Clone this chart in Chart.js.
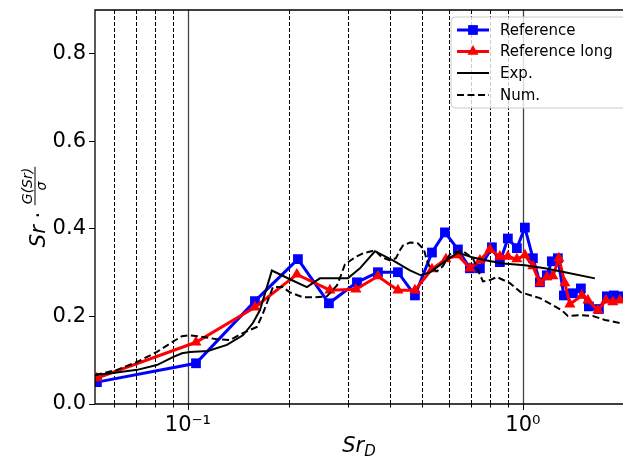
<!DOCTYPE html>
<html>
<head>
<meta charset="utf-8">
<script src="https://cdn.jsdelivr.net/npm/chart.js@4.4.0/dist/chart.umd.min.js"></script>
<style>
  html, body { margin: 0; padding: 0; background: #fff; }
  #wrap { width: 623px; height: 467px; }
</style>
</head>
<body>
<div id="wrap"><canvas id="myChart" width="623" height="467"></canvas></div>
<script>
// values
const refX = [0.0535, 0.1057, 0.1585, 0.213, 0.2636, 0.3196, 0.3692, 0.4236, 0.4761, 0.5352, 0.5852, 0.6397, 0.6948, 0.7441, 0.8083, 0.8537, 0.9019, 0.9596, 1.0139, 1.0712, 1.124, 1.179, 1.2204, 1.2718, 1.3253, 1.4101, 1.4896, 1.574, 1.6866, 1.7815, 1.8685, 1.9607];
const refY = [0.050, 0.093, 0.235, 0.331, 0.230, 0.278, 0.301, 0.301, 0.248, 0.346, 0.392, 0.353, 0.310, 0.310, 0.358, 0.324, 0.378, 0.356, 0.403, 0.333, 0.278, 0.294, 0.326, 0.333, 0.248, 0.253, 0.264, 0.223, 0.217, 0.246, 0.248, 0.246];

const longX = [0.0535, 0.1057, 0.1585, 0.2115, 0.2654, 0.3174, 0.3692, 0.4236, 0.4761, 0.5352, 0.5891, 0.6397, 0.6948, 0.7441, 0.797, 0.8537, 0.9019, 0.9596, 1.0139, 1.0712, 1.124, 1.179, 1.229, 1.2806, 1.3346, 1.3812, 1.5, 1.5631, 1.6749, 1.7697, 1.8561, 1.9481];
const longY = [0.059, 0.141, 0.221, 0.296, 0.260, 0.262, 0.292, 0.260, 0.260, 0.308, 0.331, 0.340, 0.310, 0.328, 0.353, 0.337, 0.337, 0.331, 0.340, 0.315, 0.276, 0.290, 0.292, 0.333, 0.276, 0.228, 0.248, 0.237, 0.214, 0.237, 0.233, 0.237];

const expX = [0.0528, 0.0597, 0.0705, 0.0808, 0.0902, 0.096, 0.1014, 0.1147, 0.1307, 0.1459, 0.1563, 0.164, 0.1721, 0.1781, 0.2016, 0.2266, 0.2477, 0.3003, 0.3262, 0.3616, 0.4091, 0.46, 0.496, 0.5279, 0.5691, 0.6397, 0.7045, 0.7808, 0.8716, 1.0139, 1.1634, 1.3346, 1.6401];
const expY = [0.066, 0.071, 0.078, 0.089, 0.107, 0.116, 0.119, 0.121, 0.135, 0.157, 0.185, 0.214, 0.267, 0.305, 0.285, 0.267, 0.287, 0.287, 0.310, 0.349, 0.328, 0.305, 0.294, 0.301, 0.319, 0.346, 0.335, 0.328, 0.321, 0.317, 0.310, 0.301, 0.287];

const numX = [0.0528, 0.0614, 0.0705, 0.0808, 0.0896, 0.096, 0.1014, 0.1109, 0.1221, 0.1335, 0.1459, 0.1607, 0.1675, 0.1794, 0.1921, 0.2016, 0.2204, 0.2393, 0.26, 0.2786, 0.2863, 0.2943, 0.3151, 0.3331, 0.3616, 0.3794, 0.4009, 0.4178, 0.4294, 0.4384, 0.46, 0.4861, 0.5064, 0.5169, 0.5279, 0.5537, 0.577, 0.6055, 0.6574, 0.709, 0.7597, 0.797, 0.8364, 0.9146, 0.9863, 1.124, 1.3072, 1.3623, 1.4794, 1.6181, 1.7571, 1.9481];
const numY = [0.066, 0.078, 0.096, 0.119, 0.141, 0.155, 0.157, 0.153, 0.148, 0.146, 0.162, 0.176, 0.207, 0.267, 0.267, 0.255, 0.244, 0.244, 0.246, 0.271, 0.294, 0.319, 0.335, 0.344, 0.351, 0.335, 0.328, 0.333, 0.351, 0.362, 0.369, 0.367, 0.353, 0.328, 0.312, 0.303, 0.315, 0.342, 0.351, 0.333, 0.280, 0.283, 0.290, 0.276, 0.255, 0.242, 0.214, 0.201, 0.203, 0.201, 0.192, 0.185];

const xMajor = [0.1, 1];
const xMinor = [0.06, 0.07, 0.08, 0.09, 0.2, 0.3, 0.4, 0.5, 0.6, 0.7, 0.8, 0.9];
const xLabels = ["10\u207B\u00B9", "10\u2070"];
const yTicks = [0, 0.2, 0.4, 0.6, 0.8];

const toPoints = (xs, ys) => xs.map((x, i) => ({ x: x, y: ys[i] }));

Chart.defaults.font.family = "DejaVu Sans";
Chart.defaults.color = "#000";

const decor = {
  id: "decor",
  beforeDatasetsDraw(chart) {
    const { ctx, chartArea: a, scales: { x } } = chart;
    ctx.save();
    xMinor.forEach((v) => {
      const px = Math.round(x.getPixelForValue(v)) + 0.5;
      ctx.beginPath();
      ctx.setLineDash([4, 2]);
      ctx.lineWidth = 1;
      ctx.strokeStyle = "#000";
      ctx.moveTo(px, a.top);
      ctx.lineTo(px, a.bottom);
      ctx.stroke();
    });
    xMajor.forEach((v) => {
      const px = Math.round(x.getPixelForValue(v)) + 0.5;
      ctx.beginPath();
      ctx.setLineDash([]);
      ctx.lineWidth = 1.3;
      ctx.strokeStyle = "#444";
      ctx.moveTo(px, a.top);
      ctx.lineTo(px, a.bottom);
      ctx.stroke();
    });
    ctx.restore();
  },
  afterDraw(chart) {
    const { ctx, chartArea: a, scales: { x } } = chart;
    ctx.save();
    // spines
    ctx.strokeStyle = "#000";
    ctx.lineWidth = 1.3;
    ctx.setLineDash([]);
    ctx.beginPath();
    ctx.moveTo(a.right + 2, a.top);
    ctx.lineTo(a.left, a.top);
    ctx.lineTo(a.left, a.bottom);
    ctx.lineTo(a.right + 2, a.bottom);
    ctx.stroke();
    // x tick marks
    xMajor.concat(xMinor).forEach((v) => {
      const px = Math.round(x.getPixelForValue(v)) + 0.5;
      const len = xMajor.includes(v) ? 6 : 3.5;
      ctx.beginPath();
      ctx.lineWidth = 1;
      ctx.moveTo(px, a.bottom);
      ctx.lineTo(px, a.bottom + len);
      ctx.stroke();
    });

    // x title: Sr_D
    ctx.fillStyle = "#000";
    ctx.textBaseline = "alphabetic";
    ctx.font = "italic 21px 'DejaVu Sans'";
    const wSr = ctx.measureText("Sr").width;
    ctx.font = "italic 15px 'DejaVu Sans'";
    const wD = ctx.measureText("D").width;
    let sx = (a.left + a.right) / 2 - (wSr + wD) / 2;
    ctx.font = "italic 21px 'DejaVu Sans'";
    ctx.textAlign = "left";
    ctx.fillText("Sr", sx, 452);
    ctx.font = "italic 15px 'DejaVu Sans'";
    ctx.fillText("D", sx + wSr, 456);

    // y title: Sr · G(Sr)/σ
    ctx.save();
    ctx.translate(45, (a.top + a.bottom) / 2);
    ctx.rotate(-Math.PI / 2);
    ctx.font = "italic 21px 'DejaVu Sans'";
    const w1 = ctx.measureText("Sr").width;
    ctx.font = "21px 'DejaVu Sans'";
    const w2 = ctx.measureText(" \u00B7 ").width;
    ctx.font = "italic 14px 'DejaVu Sans'";
    const wNum = ctx.measureText("G(Sr)").width;
    const wDen = ctx.measureText("\u03C3").width;
    const wFrac = Math.max(wNum, wDen) + 2;
    let tx = -(w1 + w2 + wFrac) / 2;
    ctx.font = "italic 21px 'DejaVu Sans'";
    ctx.fillText("Sr", tx, 0);
    tx += w1;
    ctx.font = "21px 'DejaVu Sans'";
    ctx.fillText(" \u00B7 ", tx, 0);
    tx += w2;
    ctx.font = "italic 14px 'DejaVu Sans'";
    ctx.fillText("G(Sr)", tx + (wFrac - wNum) / 2, -13);
    ctx.fillText("\u03C3", tx + (wFrac - wDen) / 2, 1);
    ctx.fillRect(tx, -10.5, wFrac, 1);
    ctx.restore();

    // legend
    const lx = 451, ly = 17, lw = 200, lh = 91, r = 4;
    ctx.beginPath();
    ctx.moveTo(lx + r, ly);
    ctx.lineTo(lx + lw, ly);
    ctx.lineTo(lx + lw, ly + lh);
    ctx.lineTo(lx + r, ly + lh);
    ctx.arcTo(lx, ly + lh, lx, ly + lh - r, r);
    ctx.lineTo(lx, ly + r);
    ctx.arcTo(lx, ly, lx + r, ly, r);
    ctx.closePath();
    ctx.fillStyle = "rgba(255,255,255,0.8)";
    ctx.fill();
    ctx.strokeStyle = "#ccc";
    ctx.lineWidth = 1;
    ctx.stroke();

    const rows = [30, 51.5, 73, 95];
    chart.data.datasets.forEach((ds, k) => {
      const y = rows[k];
      ctx.beginPath();
      ctx.strokeStyle = ds.borderColor;
      ctx.lineWidth = ds.borderWidth;
      ctx.setLineDash(ds.borderDash || []);
      ctx.moveTo(457, y);
      ctx.lineTo(489, y);
      ctx.stroke();
      ctx.setLineDash([]);
      if (ds.pointRadius > 0) {
        ctx.fillStyle = ds.backgroundColor;
        ctx.strokeStyle = ds.borderColor;
        Chart.helpers.drawPoint(ctx, {
          pointStyle: ds.pointStyle,
          radius: ds.pointRadius,
          borderWidth: 0,
          rotation: 0
        }, 473, y);
      }
      ctx.fillStyle = "#000";
      ctx.font = "15px 'DejaVu Sans'";
      ctx.textBaseline = "middle";
      ctx.fillText(ds.label, 500, y + 1);
    });
    ctx.restore();
  }
};

const ctx = document.getElementById("myChart").getContext("2d");
const chart = new Chart(ctx, {
  type: "scatter",
  data: {
    datasets: [
      {
        label: "Reference",
        data: toPoints(refX, refY),
        showLine: true,
        borderColor: "#0000ff",
        backgroundColor: "#0000ff",
        borderWidth: 3,
        pointStyle: "rect",
        pointRadius: 6.9,
        pointHoverRadius: 6.9,
        pointBorderWidth: 0,
        order: 4
      },
      {
        label: "Reference long",
        data: toPoints(longX, longY),
        showLine: true,
        borderColor: "#ff0000",
        backgroundColor: "#ff0000",
        borderWidth: 3,
        pointStyle: "triangle",
        pointRadius: 6.4,
        pointHoverRadius: 6.4,
        pointBorderWidth: 0,
        order: 3
      },
      {
        label: "Exp.",
        data: toPoints(expX, expY),
        showLine: true,
        borderColor: "#000",
        backgroundColor: "#000",
        borderWidth: 2,
        pointRadius: 0,
        order: 2
      },
      {
        label: "Num.",
        data: toPoints(numX, numY),
        showLine: true,
        borderColor: "#000",
        backgroundColor: "#000",
        borderWidth: 2,
        borderDash: [7, 3.5],
        pointRadius: 0,
        order: 1
      }
    ]
  },
  options: {
    responsive: false,
    animation: false,
    layout: { autoPadding: false, padding: { top: 10, right: 0, left: 0, bottom: 0 } },
    plugins: {
      legend: { display: false },
      tooltip: { enabled: false }
    },
    scales: {
      x: {
        type: "logarithmic",
        min: 0.0528,
        max: 1.99,
        grid: { drawOnChartArea: false, drawTicks: false },
        border: { display: false },
        ticks: {
          autoSkip: false,
          maxRotation: 0,
          padding: 9,
          color: "#000",
          font: { size: 21 },
          callback: (v) => {
            const i = xMajor.findIndex((m) => Math.abs(m - v) < 1e-9);
            return i >= 0 ? xLabels[i] : "";
          }
        },
        afterBuildTicks: (s) => {
          s.ticks = xMinor.concat(xMajor).sort((a, b) => a - b).map((v) => ({ value: v }));
        },
        afterFit: (s) => {
          s.height = 63;
          s.paddingLeft = 0;
          s.paddingRight = 0;
        }
      },
      y: {
        type: "linear",
        min: 0,
        max: 0.9,
        grid: { drawOnChartArea: false, tickLength: 6, tickColor: "#000", tickWidth: 1 },
        border: { display: false },
        ticks: {
          padding: 3,
          color: "#000",
          font: { size: 21 },
          callback: (v) => v.toFixed(1)
        },
        afterBuildTicks: (s) => {
          s.ticks = yTicks.map((v) => ({ value: v }));
        },
        afterFit: (s) => {
          s.width = 95;
          s.paddingTop = 0;
          s.paddingBottom = 0;
        }
      }
    }
  },
  plugins: [decor]
});
</script>
</body>
</html>
